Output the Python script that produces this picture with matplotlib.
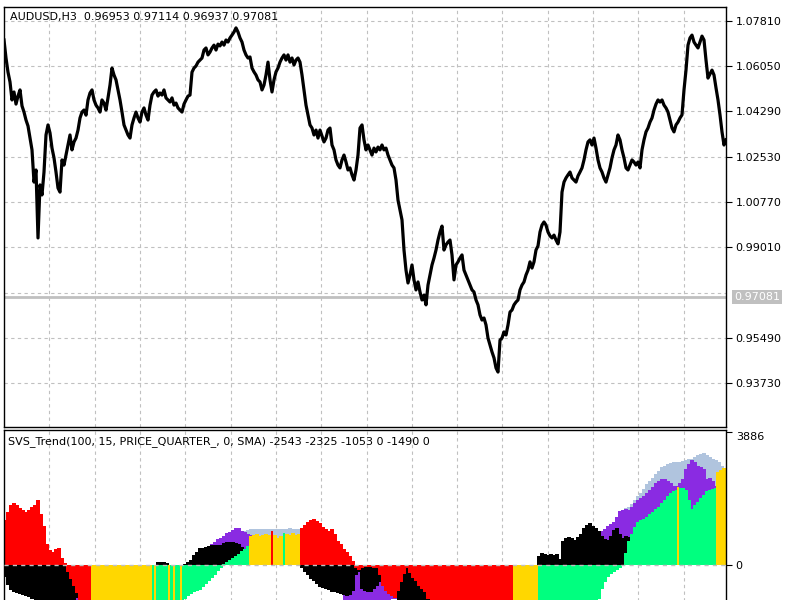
import matplotlib
matplotlib.use('Agg')
import matplotlib.pyplot as plt
import numpy as np

# AUDUSD H3 closes, one value every 2 bars, first one at bar 4
close_x0 = 4
close = [
    1.0706, 1.0636, 1.0581, 1.0543, 1.0473, 1.0504, 1.0457, 1.0488, 1.0512, 1.0450,
    1.0426, 1.0395, 1.0372, 1.0325, 1.0279, 1.0154, 1.0201, 0.9937, 1.0143, 1.0104,
    1.0193, 1.0337, 1.0376, 1.0345, 1.0286, 1.0248, 1.0193, 1.0131, 1.0115, 1.0240,
    1.0220, 1.0259, 1.0298, 1.0337, 1.0279, 1.0310, 1.0325, 1.0356, 1.0403, 1.0426,
    1.0434, 1.0414, 1.0473, 1.0500, 1.0512, 1.0473, 1.0453, 1.0442, 1.0426, 1.0473,
    1.0461, 1.0434, 1.0481, 1.0531, 1.0597, 1.0570, 1.0551, 1.0512, 1.0473, 1.0426,
    1.0376, 1.0356, 1.0337, 1.0325, 1.0376, 1.0403, 1.0426, 1.0403, 1.0387, 1.0426,
    1.0442, 1.0414, 1.0395, 1.0453, 1.0492, 1.0504, 1.0512, 1.0488, 1.0500, 1.0492,
    1.0512, 1.0481, 1.0473, 1.0465, 1.0481, 1.0453, 1.0461, 1.0442, 1.0434, 1.0426,
    1.0457, 1.0473, 1.0488, 1.0492, 1.0581, 1.0597, 1.0605, 1.0620, 1.0628, 1.0636,
    1.0667, 1.0675, 1.0648, 1.0659, 1.0675, 1.0686, 1.0667, 1.0690, 1.0683, 1.0698,
    1.0686, 1.0706, 1.0698, 1.0714, 1.0725, 1.0737, 1.0753, 1.0737, 1.0714, 1.0698,
    1.0667, 1.0648, 1.0636,
    1.0640, 1.0597, 1.0582, 1.0570, 1.0551, 1.0543, 1.0512, 1.0531, 1.0570, 1.0620,
    1.0551, 1.0504, 1.0551, 1.0582, 1.0597, 1.0620, 1.0636, 1.0648, 1.0628, 1.0648,
    1.0620, 1.0636, 1.0609, 1.0628, 1.0636, 1.0620, 1.0570, 1.0512, 1.0453, 1.0415,
    1.0376, 1.0364, 1.0337, 1.0356, 1.0325, 1.0356, 1.0333, 1.0310, 1.0325, 1.0356,
    1.0364, 1.0298, 1.0279, 1.0240, 1.0220, 1.0209, 1.0240, 1.0259, 1.0232, 1.0201,
    1.0209, 1.0182, 1.0162, 1.0201, 1.0259, 1.0364, 1.0376, 1.0318, 1.0279, 1.0298,
    1.0279, 1.0259, 1.0286, 1.0271, 1.0290, 1.0279, 1.0298, 1.0279, 1.0286, 1.0259,
    1.0240, 1.0220, 1.0209, 1.0162, 1.0084, 1.0046, 1.0007, 0.9890, 0.9812, 0.9762,
    0.9793, 0.9832, 0.9774, 0.9735, 0.9766, 0.9727, 0.9696, 0.9715, 0.9677, 0.9754,
    0.9793, 0.9832, 0.9859, 0.9890, 0.9929, 0.9960, 0.9983, 0.9890, 0.9910, 0.9921,
    0.9929, 0.9871, 0.9774, 0.9832, 0.9844, 0.9859, 0.9871, 0.9812, 0.9793, 0.9774,
    0.9754, 0.9735, 0.9727, 0.9696, 0.9677, 0.9638, 0.9618, 0.9626, 0.9599, 0.9548,
    0.9521, 0.9494, 0.9471, 0.9432, 0.9416, 0.9540, 0.9548, 0.9572, 0.9560, 0.9599,
    0.9649, 0.9657, 0.9677, 0.9688, 0.9696, 0.9735, 0.9754, 0.9766, 0.9793, 0.9812,
    0.9844, 0.9820, 0.9844, 0.9890, 0.9906, 0.9960, 0.9987, 0.9999, 0.9987, 0.9960,
    0.9945, 0.9937, 0.9948, 0.9929, 0.9914, 0.9960, 1.0115, 1.0154, 1.0170, 1.0182,
    1.0193, 1.0170, 1.0162, 1.0154, 1.0178, 1.0193, 1.0209, 1.0240, 1.0279, 1.0310,
    1.0318, 1.0298, 1.0325, 1.0286, 1.0240, 1.0209, 1.0193, 1.0170, 1.0154, 1.0182,
    1.0209, 1.0248, 1.0279, 1.0298, 1.0337, 1.0318, 1.0279, 1.0248, 1.0209, 1.0201,
    1.0220, 1.0240, 1.0232, 1.0220, 1.0232, 1.0209, 1.0279, 1.0318, 1.0349, 1.0364,
    1.0387, 1.0403, 1.0434, 1.0457, 1.0473, 1.0465, 1.0473, 1.0453, 1.0442, 1.0426,
    1.0395, 1.0364, 1.0349, 1.0376, 1.0387, 1.0403, 1.0415, 1.0512, 1.0589, 1.0686,
    1.0714, 1.0725, 1.0698, 1.0686, 1.0675, 1.0698, 1.0721, 1.0706, 1.0628, 1.0558,
    1.0574, 1.0589, 1.0570, 1.0520, 1.0473, 1.0415, 1.0349, 1.0298, 1.0318,
]

price_levels = [1.07810, 1.06050, 1.04290, 1.02530, 1.00770, 0.99010, 0.97250, 0.95490, 0.93730]
last_price = 0.97081
header = 'AUDUSD,H3  0.96953 0.97114 0.96937 0.97081'
ind_header = 'SVS_Trend(100, 15, PRICE_QUARTER_, 0, SMA) -2543 -2325 -1053 0 -1490 0'
ind_max = 3886
time_grid = [49, 95, 140, 185, 231, 276, 321, 367, 412, 457, 502, 548, 593, 638, 684]

# indicator buffers: runs are (first bar, values every 3 bars),
# blocks are (from bar, to bar, value) where the bars run off the bottom,
# stripes are single thin bars (bar, value)
red_runs = [
    (5, [1312, 1545, 1749, 1807, 1749, 1662, 1603, 1545, 1603, 1691, 1749, 1895, 1500,
         1150, 600, 437, 379, 466, 496, 204, 58]),
    (68, [-204, -408, -612, -816, -1500, -1500, -1500, -1500]),
    (302, [1080, 1160, 1250, 1310, 1340, 1280, 1220, 1110, 1050, 1000, 1050, 900, 700,
           600, 480, 380, 250, 120]),
    (356, [-80, -150, -100, -60, -60, -60, -80, -100, -300, -600, -750, -850, -900, -950]),
    (398, [-750, -500, -250, -90, -230, -380, -470, -620, -700, -800, -1000]),
]
red_blocks = [(429.5, 512.5, -1500)]
red_stripes = [(272, 1000)]

black_runs = [
    (5, [-350, -583, -729, -787, -816, -845, -875, -904, -933, -991]),
    (77, [-960]),
    (158, [87, 90, 87, 60]),
    (185, [30, 100, 146, 290, 379, 496, 510, 525, 550, 583, 583, 583, 583, 640, 670, 670,
           670, 640, 610, 525, 450, 300]),
    (302, [-100, -200, -300, -420, -470, -560, -640, -670, -700, -730, -780, -800, -820,
           -840, -870, -900, -870, -760]),
    (356, [-300, -200, -700, -750, -800, -780, -700, -620, -500]),
    (539, [250, 350, 320, 290, 330, 300, 320, 180, 700, 790, 820, 780, 730, 820, 900, 1080,
           1180, 1220, 1150, 1080, 980, 850, 760, 730, 850, 1010, 1080, 900, 800, 850, 820]),
]
black_blocks = [(33.5, 75.5, -1500), (396.5, 429.5, -1500)]

purple_runs = [
    (209, [520, 600, 680, 750, 800, 850, 920, 970, 1020, 1080, 1080, 1000, 950, 900, 880]),
    (383, [-1200, -1100, -1050, -1000, -1000]),
    (599, [1000, 1000, 1050, 1130, 1200, 1250, 1400, 1580, 1600, 1620, 1600, 1700, 1800,
           1900, 1950, 2000, 2100, 2200, 2280, 2400, 2450, 2500, 2520, 2450, 2400, 2300,
           2300, 2400, 2500, 2800, 2950, 3050, 3000, 2900, 2850, 2800, 2500, 2550, 2450, 2300]),
]
purple_blocks = [(72.5, 81.5, -1500), (342.5, 381.5, -1500)]

steel_runs = [
    (245, [1000, 1020, 1050, 1060, 1050, 1040, 1060, 1050, 1050, 1040, 1040, 1060, 1050,
           1050, 1060, 1070, 1060, 1050, 1040]),
    (626, [1650, 1700, 1780, 1900, 2000, 2100, 2230, 2350, 2450, 2550, 2650, 2750, 2850,
           2900, 2950, 2980, 3000, 3000, 3010, 3020, 3050, 3080, 3100, 3150, 3200, 3250,
           3260, 3220, 3150, 3100, 3050, 3000, 2900, 2800]),
]

green_runs = [
    (185, [-1000, -900, -850, -800, -760, -729, -650, -560, -480, -380, -290, -180, -90]),
    (224, [30, 90, 150, 204, 260, 320, 400, 470, 560]),
    (599, [-1000, -700, -500, -350, -250, -200, -150, -100, -30]),
    (626, [350, 700, 900, 1100, 1250, 1300, 1330, 1400, 1480, 1550, 1620, 1700, 1800, 1900,
           2000, 2100, 2150, 2200, 2250, 2250, 2200, 1900, 1620, 1750, 1850, 1950, 2050,
           2150, 2200, 2220, 2250]),
]
green_blocks = [(151.5, 183.5, -1500), (537.5, 597.5, -1500)]
green_stripes = [(284, 930)]

gold_runs = [
    (251, [850, 880, 900, 860, 870, 900, 880]),
    (275, [870, 800, 850]),
    (287, [900, 880, 920, 880, 900]),
    (718, [2700, 2780, 2830]),
]
gold_blocks = [(90.5, 151.5, -1500), (512.5, 537.5, -1500)]
gold_stripes = [(155, -1500), (169, -1500), (174, -1500), (181, -1500), (678, 2270)]

GRID = '#C0C0C0'
DASH = (0, (3, 3))
plt.rcParams['font.family'] = 'DejaVu Sans'
plt.rcParams['font.size'] = 8

fig = plt.figure(figsize=(8, 6), dpi=100)
left = 3.5 / 800
width = (726 - 3.5) / 800
ax1 = fig.add_axes([left, 1 - 427 / 600, width, (427 - 6.5) / 600])
ax2 = fig.add_axes([left, 1 - 606 / 600, width, (606 - 430) / 600])

# price panel
xs = close_x0 + 2 * np.arange(len(close))
for p in price_levels:
    ax1.axhline(p, color=GRID, lw=0.8, ls=DASH, zorder=1)
for t in time_grid:
    ax1.axvline(t, color=GRID, lw=0.8, ls=DASH, zorder=1)
ax1.axhline(last_price, color='#C0C0C0', lw=2, zorder=2)
ax1.plot(xs, close, color='black', lw=2.3, zorder=3)
ax1.set_xlim(3.5, 726)
ax1.set_ylim(0.92025, 1.08361)
ax1.set_xticks([])
ax1.yaxis.tick_right()
shown = [p for p in price_levels if abs(p - last_price) > 0.003]
ax1.set_yticks(shown)
ax1.set_yticklabels(['%.5f' % p for p in shown])
ax1.tick_params(axis='y', direction='out', length=4, width=0.8, pad=3, labelsize=8)
ax1.annotate('%.5f' % last_price, xy=(1, last_price), xycoords=('axes fraction', 'data'),
             xytext=(8, 0), textcoords='offset pixels', ha='left', va='center',
             color='white', fontsize=8, annotation_clip=False,
             bbox=dict(boxstyle='square,pad=0.2', fc='#C0C0C0', ec='none'))
for s in ax1.spines.values():
    s.set_color('black')
    s.set_linewidth(1)


# indicator panel
def draw(ax, runs, blocks, stripes, color):
    for x0, vals in runs:
        bx = x0 + 3 * np.arange(len(vals))
        ax.bar(bx, vals, width=3.2, color=color, linewidth=0, zorder=2)
    for a, b, v in blocks:
        ax.bar(a, v, width=b - a, align='edge', color=color, linewidth=0, zorder=2)
    for x, v in stripes:
        ax.bar(x, v, width=2, color=color, linewidth=0, zorder=2)


for t in time_grid:
    ax2.axvline(t, color=GRID, lw=0.8, ls=DASH, zorder=1)
draw(ax2, steel_runs, [], [], '#B0C4DE')
draw(ax2, purple_runs, purple_blocks, [], '#8A2BE2')
draw(ax2, black_runs, black_blocks, [], '#000000')
draw(ax2, green_runs, green_blocks, green_stripes, '#00FF7F')
draw(ax2, gold_runs, gold_blocks, gold_stripes, '#FFD700')
draw(ax2, red_runs, red_blocks, red_stripes, '#FF0000')
ax2.axhline(0, color=GRID, lw=1, ls=DASH, zorder=4)
ax2.set_xlim(3.5, 726)
ax2.set_ylim(-1195, 3936)
ax2.set_xticks([])
ax2.yaxis.tick_right()
ax2.set_yticks([0, ind_max])
ax2.set_yticklabels(['0', str(ind_max)])
ax2.tick_params(axis='y', direction='out', length=4, width=0.8, pad=3, labelsize=8)
ax2.get_yticklabels()[1].set_verticalalignment('top')
for s in ax2.spines.values():
    s.set_color('black')
    s.set_linewidth(1)

fig.text(10 / 800, 1 - 17 / 600, header, fontsize=8, va='center', ha='left')
fig.text(8 / 800, 1 - 442 / 600, ind_header, fontsize=8, va='center', ha='left')

fig.savefig('out.png', dpi=100, facecolor='white')
